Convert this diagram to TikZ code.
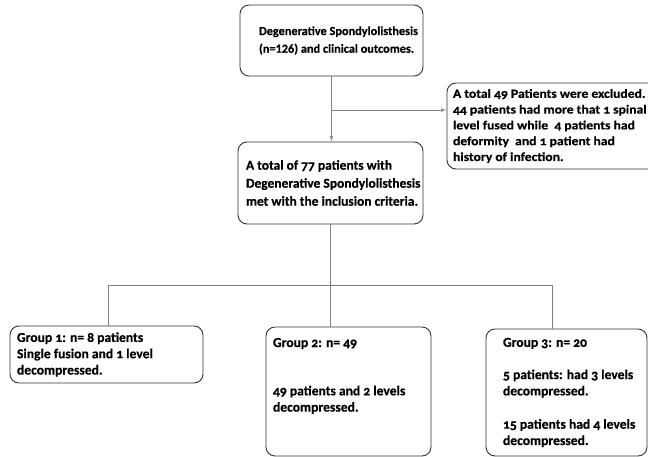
\documentclass[tikz,border=0pt]{standalone}
\usepackage{fontspec}
\setmainfont{Carlito}[Numbers=OldStyle, BoldFeatures={FakeBold=0.5}]
\newfontfamily\liningfont{Carlito}[Numbers=Lining, BoldFeatures={FakeBold=0.5}]
\newfontfamily\widefont{Carlito}[Numbers=OldStyle, FakeStretch=1.1, BoldFeatures={FakeBold=0.5, FakeStretch=1.1}]
\usepackage{tikz}
\usetikzlibrary{arrows,positioning}

% box text: width, left pad, lines
\newcommand{\boxtext}[3]{\hspace*{#2pt}\parbox[c]{\dimexpr#1pt-#2pt\relax}{\raggedright #3}}

\tikzset{
	flowbox/.style={draw=black!80, line width=0.9pt, rounded corners=9pt, inner xsep=0pt, inner ysep=0pt, font=\bfseries\fontsize{13.6}{16.3}\selectfont},
	link/.style={draw=black!50, line width=0.8pt},
	arr/.style={link, -latex', shorten >=0.4pt}
}

\begin{document}
\begin{tikzpicture}[x=1pt, y=-1pt]
		\useasboundingbox (0,0) rectangle (648,457);

		\node[flowbox, minimum width=183, minimum height=71, font=\liningfont\bfseries\fontsize{12.3}{17.7}\selectfont] (onset) at (331.5,40.5)
			{\boxtext{183}{19}{Degenerative Spondylolisthesis\\(n=126) and clinical outcomes.}};
		\node[flowbox, minimum width=240, minimum height=86, font=\widefont\bfseries\fontsize{12.4}{15.8}\selectfont] (excluded) at (567,126)
			{\boxtext{240}{6}{A total 49 Patients were excluded.\\44 patients had more that 1 spinal\\level fused while~ 4 patients had\\deformity~ and 1 patient had\\history of infection.}};
		\node[flowbox, minimum width=185, minimum height=82, font=\bfseries\fontsize{13.5}{18}\selectfont] (included) at (330.5,183)
			{\boxtext{185}{8}{A total of 77 patients with\\Degenerative Spondylolisthesis\\met with the inclusion criteria.}};

		\node[flowbox, minimum width=193, minimum height=57] (groupone) at (106.5,354.5)
			{\boxtext{193}{7}{Group 1: n= 8 patients\\Single fusion and 1 level\\decompressed.}};
		\node[flowbox, minimum width=165, minimum height=129] (grouptwo) at (348.5,391.5)
			{\boxtext{165}{7}{Group 2: n= 49\\[32pt]49 patients and 2 levels\\decompressed.\\[17pt]\mbox{}}};
		\node[flowbox, minimum width=161, minimum height=127] (groupthree) at (566.5,392.5)
			{\boxtext{161}{17}{Group 3: n= 20\\[16pt]5 patients: had 3 levels\\decompressed.\\[17pt]15 patients had 4 levels\\decompressed.}};

		\coordinate (split) at (onset.south |- 0,110);
		\coordinate (bus) at (included.south |- 0,285);
		\coordinate (dropone) at (108,285);
		\coordinate (dropthree) at (552,285);

		\draw[arr] (onset.south) -- (onset.south |- included.north);
		\draw[arr] (split) -- (split -| excluded.west);
		\draw[link] (included.south) -- (bus);
		\draw[link] (dropone) -- (dropthree);
		\draw[link] (dropone) -- (dropone |- groupone.north);
		\draw[link] (bus) -- (bus |- grouptwo.north);
		\draw[link] (dropthree) -- (dropthree |- groupthree.north);

	\end{tikzpicture}
\end{document}
